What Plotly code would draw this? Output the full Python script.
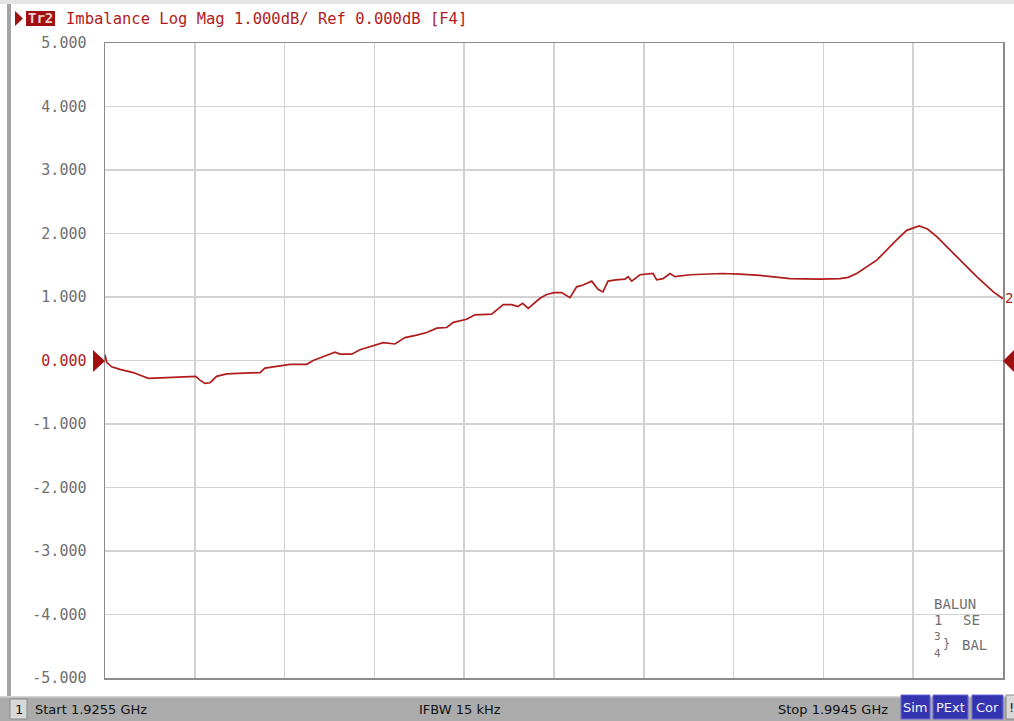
import plotly.graph_objects as go

# ---------------- data ----------------
freq_mhz = [
    1925.50, 1925.63, 1926.01, 1926.65, 1927.67, 1928.83, 1930.24, 1931.52,
    1932.47, 1932.80, 1933.18, 1933.57, 1934.08, 1934.85, 1935.87, 1937.41,
    1937.79, 1938.95, 1939.71, 1941.00, 1941.50, 1942.40, 1943.17, 1943.56,
    1944.46, 1945.09, 1945.99, 1946.88, 1947.78, 1948.55, 1949.45, 1950.22,
    1950.99, 1951.76, 1952.26, 1953.29, 1953.93, 1955.21, 1956.10, 1956.75,
    1957.23, 1957.59, 1958.02, 1958.92, 1959.44, 1960.00, 1960.59, 1961.23,
    1961.74, 1962.23, 1962.90, 1963.38, 1963.76, 1964.15, 1964.76, 1965.46,
    1965.69, 1965.97, 1966.61, 1967.61, 1967.89, 1968.38, 1968.91, 1969.30,
    1970.45, 1972.89, 1974.29, 1975.83, 1978.13, 1980.44, 1981.98, 1982.60,
    1983.26, 1984.80, 1986.33, 1987.10, 1988.05, 1988.70, 1989.41, 1990.94,
    1992.48, 1993.76, 1994.50,
]
imbalance_db = [
    0.09, -0.03, -0.10, -0.14, -0.19, -0.28, -0.27, -0.26,
    -0.25, -0.31, -0.36, -0.35, -0.25, -0.21, -0.20, -0.19,
    -0.12, -0.09, -0.06, -0.06, 0.00, 0.07, 0.13, 0.10,
    0.10, 0.17, 0.22, 0.28, 0.26, 0.36, 0.40, 0.44,
    0.51, 0.52, 0.60, 0.65, 0.72, 0.73, 0.88, 0.88,
    0.85, 0.90, 0.82, 0.98, 1.04, 1.07, 1.07, 0.99,
    1.16, 1.19, 1.25, 1.12, 1.08, 1.25, 1.27, 1.28,
    1.32, 1.25, 1.35, 1.37, 1.27, 1.29, 1.37, 1.32,
    1.35, 1.37, 1.36, 1.34, 1.29, 1.28, 1.29, 1.31,
    1.37, 1.58, 1.90, 2.05, 2.12, 2.07, 1.95, 1.63,
    1.32, 1.08, 0.97,
]
y_tick_vals = [5, 4, 3, 2, 1, 0, -1, -2, -3, -4, -5]
y_tick_labels = ["5.000", "4.000", "3.000", "2.000", "1.000", "0.000",
                 "-1.000", "-2.000", "-3.000", "-4.000", "-5.000"]
start_ghz = 1.9255
stop_ghz = 1.9945
ifbw_label = "IFBW 15 kHz"

# ---------------- styling ----------------
TRACE = "#b01c1c"
W, H = 1014, 721
L, R, T, B = 105, 1003, 43, 678


def px(x):
    return (x - L) / (R - L)


def py(y):
    return (B - y) / (B - T)


ticktext = [f"<span style='color:{TRACE}'>{t}</span>" if v == 0 else t
            for v, t in zip(y_tick_vals, y_tick_labels)]

fig = go.Figure(go.Scatter(
    x=freq_mhz, y=imbalance_db, mode="lines",
    line=dict(color=TRACE, width=1.7), hoverinfo="skip"))

fig.update_layout(
    width=W, height=H,
    margin=dict(l=L, r=W - R, t=T, b=H - B, pad=0),
    paper_bgcolor="white", plot_bgcolor="white", showlegend=False,
)
fig.update_xaxes(
    range=[start_ghz * 1000, stop_ghz * 1000], tick0=start_ghz * 1000,
    dtick=(stop_ghz - start_ghz) * 100, showticklabels=False, ticks="",
    showgrid=True, gridcolor="#d2d2d2", gridwidth=1.5, zeroline=False,
    showline=True, linecolor="#8c8c8c", linewidth=1.5, mirror=True,
    automargin=False, fixedrange=True,
)
fig.update_yaxes(
    range=[-5, 5], tickvals=y_tick_vals, ticktext=ticktext, ticks="",
    tickfont=dict(family="DejaVu Sans Mono", size=15, color="#707070"),
    ticklabelstandoff=14,
    showgrid=True, gridcolor="#d2d2d2", gridwidth=1.5, zeroline=False,
    showline=True, linecolor="#8c8c8c", linewidth=1.5, mirror=True,
    automargin=False, fixedrange=True,
)

shapes = []


def rect(x0, y0, x1, y1, fill, line=None):
    shapes.append(dict(type="rect", xref="paper", yref="paper",
                       x0=px(x0), x1=px(x1), y0=py(y1), y1=py(y0),
                       fillcolor=fill, line=dict(width=1 if line else 0,
                                                 color=line or fill),
                       layer="below"))


def path(points, fill):
    d = "M " + " L ".join(f"{px(a)},{py(b)}" for a, b in points) + " Z"
    shapes.append(dict(type="path", xref="paper", yref="paper", path=d,
                       fillcolor=fill, line=dict(width=0), layer="above"))


# window frame
rect(0, 0, W, 4, "#e4e4e4")
rect(7, 4, 11, 697, "#a4a4a4")
# status bar
rect(0, 697, W, H, "#ababab")
rect(0, 696, W, 697.5, "#d6d6d6")
rect(10, 699, 27, 719, "#d8d8d8", "#8a8a8a")
rect(901, 695, 930, 719, "#3434b0", "#6a6ad8")
rect(933, 695, 968, 719, "#3434b0", "#6a6ad8")
rect(972, 695, 1003, 719, "#3434b0", "#6a6ad8")
rect(1006, 695, 1016, 719, "#d8d8d8", "#8a8a8a")
# title trace badge
rect(26, 11, 55, 26, "#a01010")
path([(15, 11), (23, 18.5), (15, 26)], "#a01010")
# reference-level arrows at 0 dB
path([(93, 350), (105, 361), (93, 372)], "#a01010")
path([(1014, 350), (1003, 361), (1014, 372)], "#a01010")
fig.update_layout(shapes=shapes)

ann = []


def text(x, y, s, size=14, color="#707070", family="DejaVu Sans Mono",
         xanchor="left"):
    ann.append(dict(x=px(x), y=py(y), xref="paper", yref="paper", text=s,
                    showarrow=False, xanchor=xanchor, yanchor="middle",
                    font=dict(family=family, size=size, color=color)))


text(64, 19, "Imbalance Log Mag 1.000dB/ Ref 0.000dB [F4]", 15.5, TRACE)
text(40.5, 18.5, "<b>Tr2</b>", 14, "#f0d0d0", xanchor="center")
text(1003, 298, "2", 14, TRACE)
# balun legend
text(932, 604, "BALUN", 14)
text(932, 620, "1", 14)
text(961, 620, "SE", 14)
text(932, 636, "3", 11)
text(932, 653, "4", 11)
text(941, 644, "}", 12)
text(960, 645, "BAL", 14)
# status bar
SB = "DejaVu Sans"
text(18.5, 709, "1", 13, "#111111", SB, "center")
text(33, 709, f"Start {start_ghz:.4f} GHz", 13, "#111111", SB)
text(417, 709, ifbw_label, 13, "#111111", SB)
text(776, 709, f"Stop {stop_ghz:.4f} GHz", 13, "#111111", SB)
text(915.5, 707.5, "Sim", 13, "#f0f0ff", SB, "center")
text(950.5, 707.5, "PExt", 13, "#f0f0ff", SB, "center")
text(987.5, 707.5, "Cor", 13, "#f0f0ff", SB, "center")
text(1007, 707.5, "!", 13, "#111111", SB)
fig.update_layout(annotations=ann)

fig.write_html(
    "out.html",
    config={"displayModeBar": False, "staticPlot": True},
    post_script="document.body.style.margin='0px';"
                "document.body.style.overflow='hidden';",
)
